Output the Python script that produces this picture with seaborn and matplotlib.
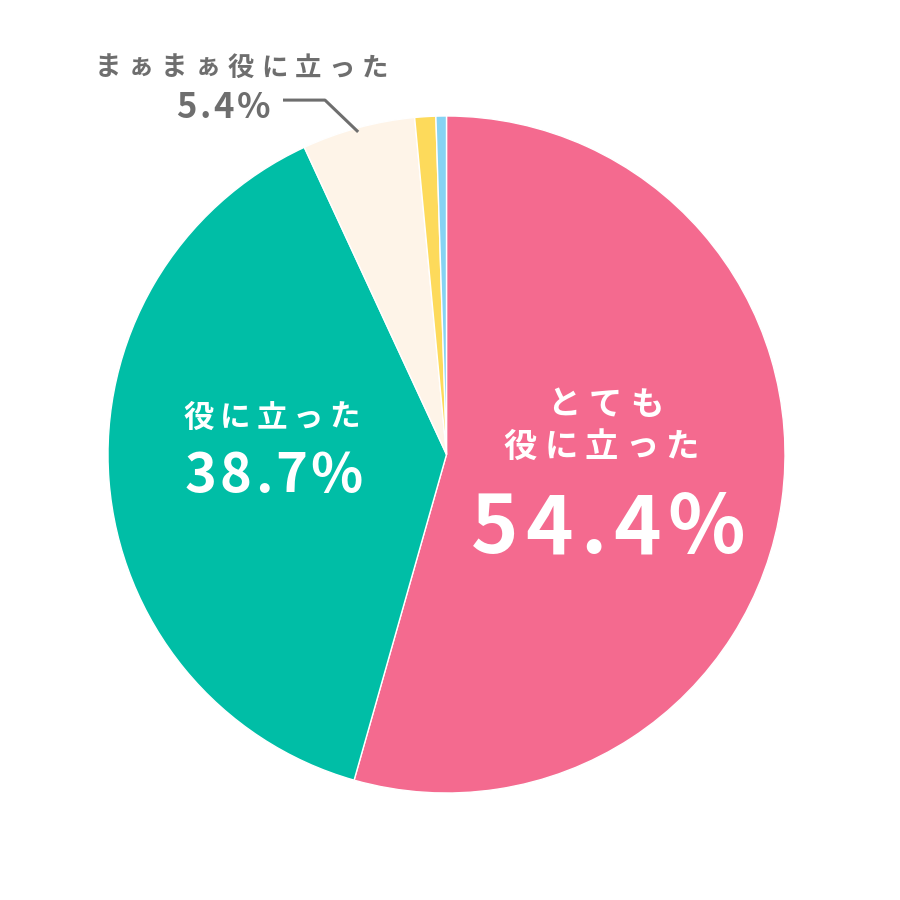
import matplotlib
matplotlib.use("Agg")
import matplotlib.pyplot as plt
import seaborn as sns

sns.set_theme(style="white")
plt.rcParams['font.family'] = ['Noto Sans CJK JP', 'DejaVu Sans']

# data
categories = ['とても役に立った', '役に立った', 'まぁまぁ役に立った', 'あまり役に立たなかった', '役に立たなかった']
values = [54.4, 38.7, 5.4, 1.0, 0.5]
colors = ['#F46A8F', '#00BEA6', '#FEF4E8', '#FDDA5B', '#86D3F3']

fig = plt.figure(figsize=(9, 9), dpi=100)
ax = fig.add_axes([108 / 900, 107 / 900, 677 / 900, 677 / 900])
ax.pie(values, colors=colors, startangle=90, counterclock=False,
       wedgeprops=dict(edgecolor='white', linewidth=1))
ax.set_xlim(-1, 1)
ax.set_ylim(-1, 1)
ax.set_aspect('equal')
ax.axis('off')

fig.canvas.draw()
renderer = fig.canvas.get_renderer()


def spaced_text(x, y, s, size, color, track):
    # draw a string one character at a time with extra letter spacing (px)
    parts = []
    for ch in s:
        t = ax.text(0, 0, ch, fontsize=size, color=color, fontweight='bold',
                    ha='left', va='center')
        w = t.get_window_extent(renderer).width
        parts.append((t, w))
    total = sum(w for _, w in parts) + track * (len(parts) - 1)
    cx, cy = ax.transData.transform((x, y))
    px = cx - total / 2
    inv = ax.transData.inverted()
    for t, w in parts:
        t.set_position(inv.transform((px, cy)))
        px += w + track


white = 'white'
gray = '#6E6E6E'

# とても役に立った
spaced_text(0.469, 0.146, 'とても', 24, white, 8)
spaced_text(0.457, 0.022, '役に立った', 24, white, 7)
spaced_text(0.477, -0.223, '54.4%', 58, white, 7)

# 役に立った
spaced_text(-0.516, 0.108, '役に立った', 22, white, 6)
spaced_text(-0.510, -0.066, '38.7%', 39, white, 3)

# まぁまぁ役に立った
spaced_text(-0.607, 1.142, 'まぁまぁ役に立った', 19, gray, 7)
spaced_text(-0.660, 1.024, '5.4%', 25, gray, 3)
ax.plot([-0.483, -0.359, -0.261], [1.047, 1.047, 0.953], color=gray,
        linewidth=2.2, clip_on=False, solid_capstyle='butt')

fig.savefig('out.png', dpi=100, facecolor='white')
